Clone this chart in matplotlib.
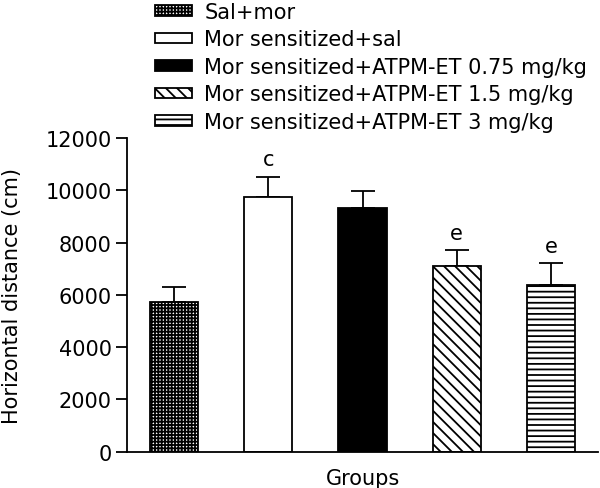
import matplotlib.pyplot as plt
import numpy as np

plt.rcParams['font.family'] = ['DejaVu Sans']
plt.rcParams['hatch.linewidth'] = 1.3

groups = ['Sal+mor', 'Mor sensitized+sal', 'Mor sensitized+ATPM-ET 0.75 mg/kg',
          'Mor sensitized+ATPM-ET 1.5 mg/kg', 'Mor sensitized+ATPM-ET 3 mg/kg']
means = [5740, 9730, 9310, 7100, 6380]
sems = [550, 790, 680, 610, 840]
letters = ['', 'c', '', 'e', 'e']

colors = ['white', 'white', 'black', 'white', 'white']
hatches = ['+++++', '', '', '\\\\\\', '---']

fig = plt.figure(figsize=(6, 4.89), dpi=100)
ax = fig.add_axes([0.2117, 0.0742, 0.785, 0.6415])

x = np.arange(len(groups))
for i in range(len(groups)):
    ax.bar(x[i], means[i], width=0.51, color=colors[i], edgecolor='black',
           linewidth=1.3, hatch=hatches[i], label=groups[i], zorder=2)
    ax.errorbar(x[i], means[i], yerr=[[0], [sems[i]]], fmt='none', ecolor='black',
                elinewidth=1.3, capsize=8.5, capthick=1.3, zorder=1)
    if letters[i]:
        ax.text(x[i], means[i] + sems[i] + 280, letters[i], ha='center', va='bottom',
                fontsize=15)

ax.set_xlim(-0.5, 4.5)
ax.set_ylim(0, 12000)
ax.set_yticks(np.arange(0, 12001, 2000))
ax.set_xticks([])
ax.spines['top'].set_visible(False)
ax.spines['right'].set_visible(False)
ax.spines['left'].set_linewidth(1.3)
ax.spines['bottom'].set_linewidth(1.3)
ax.tick_params(axis='y', labelsize=15, width=1.3, length=8, pad=3)
ax.set_ylabel('Horizontal distance (cm)', fontsize=15)
ax.yaxis.set_label_coords(-0.222, 0.5)
ax.set_xlabel('Groups', fontsize=15, labelpad=12)

leg = ax.legend(loc='upper left', bbox_to_anchor=(0.258, 0.994), bbox_transform=fig.transFigure,
                frameon=False, fontsize=15, handlelength=1.78, handleheight=0.4,
                handletextpad=0.6, labelspacing=0.36, borderaxespad=0, borderpad=0)

fig.savefig('out.png', dpi=100)
